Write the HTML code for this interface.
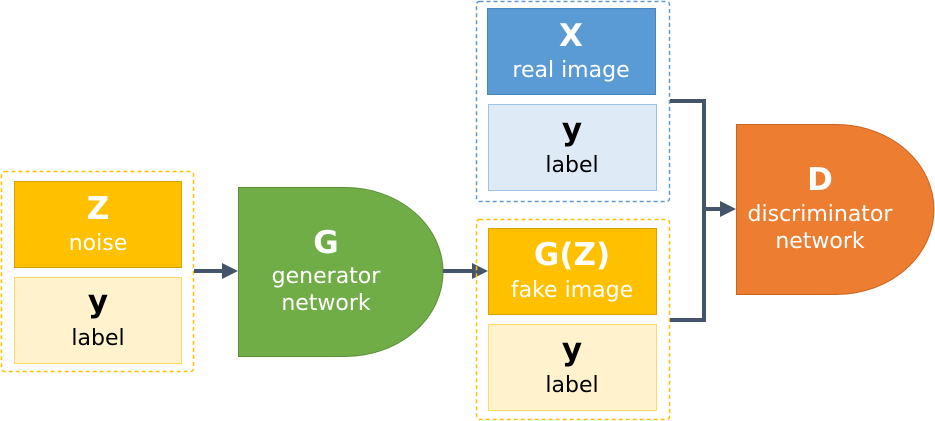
<!DOCTYPE html>
<html><head><meta charset="utf-8"><style>
html,body{margin:0;padding:0;background:#fff;}
svg{display:block;}
text{font-family:"DejaVu Sans","Liberation Sans",sans-serif;text-anchor:middle;}
.b{font-weight:bold;font-size:31px;}
.s{font-size:22px;}
.w{fill:#fff;}
.k{fill:#000;}
</style></head><body>
<svg width="935" height="421" viewBox="0 0 935 421" xmlns="http://www.w3.org/2000/svg">
<rect x="1.5" y="171.5" width="192" height="200" rx="3" fill="none" stroke="#FFC000" stroke-width="1.5" stroke-dasharray="4,3"/>
<rect x="14.5" y="181.5" width="167" height="86" fill="#FFC000" stroke="#D6A300" stroke-width="1"/>
<text x="98" y="219" class="b w">Z</text>
<text x="98" y="250" class="s w">noise</text>
<rect x="14.5" y="277.5" width="167" height="86" fill="#FFF2CC" stroke="#FFD966" stroke-width="1"/>
<text x="98" y="312" class="b k">y</text>
<text x="98" y="345" class="s k">label</text>
<line x1="194" y1="271" x2="224" y2="271" stroke="#44546A" stroke-width="4"/>
<polygon points="222,263 238,271 222,279" fill="#44546A"/>
<path d="M238.5,187.5 H345 A98,84.5 0 0 1 345,356.5 H238.5 Z" fill="#70AD47" stroke="#5A8F38" stroke-width="1"/>
<text x="326" y="253" class="b w">G</text>
<text x="326" y="283" class="s w">generator</text>
<text x="326" y="310" class="s w">network</text>
<line x1="443" y1="271" x2="474" y2="271" stroke="#44546A" stroke-width="4"/>
<polygon points="472,263 488,271 472,279" fill="#44546A"/>
<rect x="476.5" y="1.5" width="193" height="200" rx="3" fill="none" stroke="#5B9BD5" stroke-width="1.5" stroke-dasharray="4,3"/>
<rect x="487.5" y="8.5" width="168" height="86" fill="#5B9BD5" stroke="#4A86BD" stroke-width="1"/>
<text x="571" y="46" class="b w">X</text>
<text x="571" y="77" class="s w">real image</text>
<rect x="488.5" y="104.5" width="168" height="86" fill="#DEEBF7" stroke="#9DC3E6" stroke-width="1"/>
<text x="572" y="140" class="b k">y</text>
<text x="572" y="172" class="s k">label</text>
<rect x="476.5" y="219.5" width="193" height="200" rx="3" fill="none" stroke="#FFC000" stroke-width="1.5" stroke-dasharray="4,3"/>
<rect x="488.5" y="228.5" width="168" height="86" fill="#FFC000" stroke="#D6A300" stroke-width="1"/>
<text x="572" y="265" class="b w">G(Z)</text>
<text x="572" y="297" class="s w">fake image</text>
<rect x="488.5" y="324.5" width="168" height="86" fill="#FFF2CC" stroke="#FFD966" stroke-width="1"/>
<text x="572" y="360" class="b k">y</text>
<text x="572" y="392" class="s k">label</text>
<polyline points="670,101 704,101 704,320 670,320" fill="none" stroke="#44546A" stroke-width="4"/>
<line x1="704" y1="209" x2="722" y2="209" stroke="#44546A" stroke-width="4"/>
<polygon points="720,201 736,209 720,217" fill="#44546A"/>
<path d="M736.5,124.5 H836 A98,85 0 0 1 836,294.5 H736.5 Z" fill="#ED7D31" stroke="#C8651F" stroke-width="1"/>
<text x="820" y="190" class="b w">D</text>
<text x="820" y="221" class="s w">discriminator</text>
<text x="820" y="248" class="s w">network</text>
</svg>
</body></html>
